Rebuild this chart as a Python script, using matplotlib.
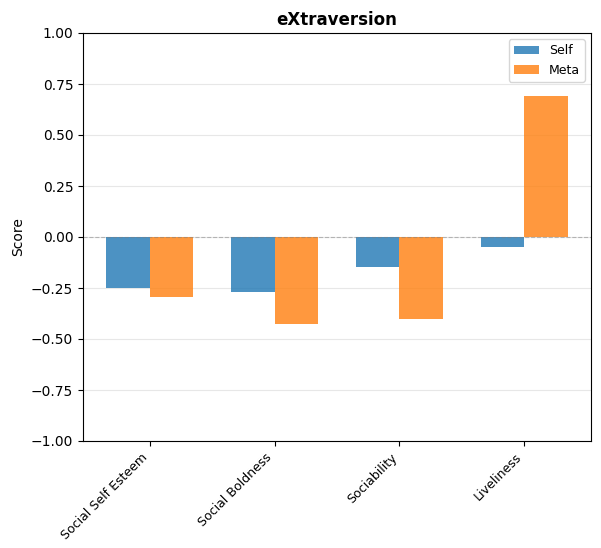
import numpy as np
import matplotlib.pyplot as plt

facets = ['Social Self Esteem', 'Social Boldness', 'Sociability', 'Liveliness']
self_scores = [-0.25, -0.27, -0.147, -0.048]
meta_scores = [-0.293, -0.426, -0.40, 0.69]

x = np.arange(len(facets))
width = 0.35

fig = plt.figure(figsize=(6.01, 5.48), dpi=100)
ax = fig.add_axes([83/601, 1 - 441/548, 508/601, 408/548])

ax.bar(x - width/2, self_scores, width, label='Self', color='tab:blue', alpha=0.8)
ax.bar(x + width/2, meta_scores, width, label='Meta', color='tab:orange', alpha=0.8)

ax.axhline(0, color='gray', linestyle='--', linewidth=0.8, alpha=0.5)
ax.set_ylim(-1, 1)
ax.set_yticks(np.arange(-1, 1.01, 0.25))
ax.set_ylabel('Score')
ax.set_title('eXtraversion', fontweight='bold', fontsize=12)
ax.set_xticks(x)
ax.set_xticklabels(facets, rotation=45, ha='right', fontsize=9)
ax.legend(fontsize=9)
ax.grid(axis='y', alpha=0.3)
ax.set_axisbelow(True)

fig.savefig('out.png', dpi=100)
